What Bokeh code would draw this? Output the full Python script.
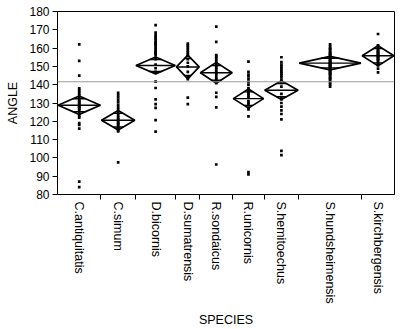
from bokeh.plotting import figure
from bokeh.models import FixedTicker, Range1d, Span
from bokeh.embed import file_html
from bokeh.resources import INLINE
import numpy as np

species = ["C.antiquitatis", "C.simum", "D.bicornis", "D.sumatrensis", "R.sondaicus",
           "R.unicornis", "S.hemitoechus", "S.hundsheimensis", "S.kirchbergensis"]
n = [29, 23, 27, 16, 22, 21, 23, 42, 22]
means = [128.8, 120.6, 150.5, 149.7, 146.5, 132.4, 137.0, 151.8, 155.8]
ci = [5.0, 5.3, 4.6, 6.5, 5.7, 5.2, 5.1, 3.7, 5.5]
grand_mean = 141.6
y_ticks = [80, 90, 100, 110, 120, 130, 140, 150, 160, 170, 180]

pts_c_antiquitatis = [162, 153, 145, 138, 137, 136, 135, 134, 133, 132, 131, 130.5, 130, 129, 129,
                      128, 128, 127, 127, 126, 125, 124, 123, 122, 119, 118, 116, 87, 84]
pts_c_simum = [135.5, 134.2, 133, 131.7, 130.4, 129, 127.7, 126.5, 125, 124, 123, 122, 121,
               120.5, 120, 119, 118.5, 118, 117, 116, 115, 114.5, 97.6]
pts_d_bicornis = [172.6, 168.5, 167, 166, 165, 164, 163, 162.5, 162, 161, 160, 159, 158,
                  157.5, 157, 156, 154, 151, 149, 147, 141.7, 138.2, 132, 129.4, 127.3, 120.6, 114.4]
pts_d_sumatrensis = [162.5, 161.5, 160.5, 159.5, 158.5, 157.5, 156.5, 155.8, 154, 152, 150,
                     147, 144, 143, 132.9, 129.4]
pts_r_sondaicus = [171.7, 163.4, 156.2, 155.5, 154.5, 153.5, 152.5, 151.5, 150.5, 149.5, 148.5,
                   147.5, 146.5, 145.5, 144, 143, 142, 140.8, 135.6, 133.4, 127.6, 96.4]
pts_r_unicornis = [152.6, 147, 145.5, 144.5, 143, 141.5, 140, 138.2, 137, 136, 135, 134, 133,
                   131, 130, 129, 127.5, 126.5, 122.7, 92.3, 91]
pts_s_hemitoechus = [155, 152.3, 151, 150, 149, 148, 147, 146, 145, 144, 142.6, 141, 139, 135,
                     133, 132, 130, 128, 126, 124, 121, 103.8, 101.5]
pts_s_hundsheimensis = [162, 161, 160, 159.5, 159, 158, 157.5, 157, 156.5, 156, 155.5, 155, 154.5,
                        154, 153.5, 153, 152.5, 152, 152, 151.5, 151, 151, 150.5, 150, 150, 149.5,
                        149, 148.5, 148, 147.5, 147, 146.5, 146, 145.5, 145, 144, 143.5, 143, 142,
                        141, 140, 139]
pts_s_kirchbergensis = [167.7, 161.5, 161, 160, 159, 158.5, 158, 157.5, 157, 156.5, 156, 155.5,
                        155, 154.5, 154, 153.5, 153, 152, 151.5, 150.5, 148.8, 146.7]

all_pts = [pts_c_antiquitatis, pts_c_simum, pts_d_bicornis, pts_d_sumatrensis, pts_r_sondaicus,
           pts_r_unicornis, pts_s_hemitoechus, pts_s_hundsheimensis, pts_s_kirchbergensis]

cum = np.cumsum([0] + n).astype(float)
lefts = cum[:-1]
rights = cum[1:]
centers = (lefts + rights) / 2.0
widths = rights - lefts

FONT = "Liberation Sans"

p = figure(width=400, height=329, x_range=Range1d(0, float(cum[-1])), y_range=Range1d(80, 180),
           output_backend="svg", toolbar_location=None,
           min_border_left=57, min_border_right=6, min_border_top=11, min_border_bottom=129)
p.xgrid.visible = False
p.ygrid.visible = False
p.outline_line_color = "black"
p.outline_line_width = 1
p.background_fill_color = "white"
p.border_fill_color = "white"

# grand mean line
p.add_layout(Span(location=grand_mean, dimension="width", line_color="#9a9a9a", line_width=1))

# points
px, py = [], []
for c, vals in zip(centers, all_pts):
    px += [float(c)] * len(vals)
    py += list(vals)
p.scatter(px, py, marker="square", size=2.7, color="black", line_color=None)

# diamonds
xs, ys = [], []
for l, r, c, m, h in zip(lefts, rights, centers, means, ci):
    xs.append([float(l) + 0.4, float(c), float(r) - 0.4, float(c)])
    ys.append([m, m + h, m, m - h])
p.patches(xs, ys, fill_color=None, line_color="black", line_width=1.7)

# mean lines
p.segment(x0=[float(v) + 0.4 for v in lefts], y0=means, x1=[float(v) - 0.4 for v in rights], y1=means,
          line_color="black", line_width=1.4)

# overlap marks
k = 1 / np.sqrt(2)
ox0, ox1, oy = [], [], []
for c, w, m, h in zip(centers, widths, means, ci):
    hw = (w / 2.0) * (1 - k)
    for s in (1, -1):
        ox0.append(float(c - hw))
        ox1.append(float(c + hw))
        oy.append(m + s * h * k)
p.segment(x0=ox0, y0=oy, x1=ox1, y1=oy, line_color="black", line_width=1.4)

# x axis
xa = p.xaxis[0]
xa.ticker = FixedTicker(ticks=[float(c) for c in centers], minor_ticks=[float(b) for b in cum[1:-1]])
xa.major_label_overrides = {float(c): s for c, s in zip(centers, species)}
xa.major_tick_line_color = None
xa.major_tick_out = 0
xa.major_tick_in = 0
xa.minor_tick_out = 5
xa.minor_tick_in = 0
xa.minor_tick_line_color = "black"
xa.major_label_orientation = "vertical"
xa.major_label_standoff = 2
xa.major_label_text_font = FONT
xa.major_label_text_font_size = "12.5px"
xa.major_label_text_color = "black"
xa.axis_label = "SPECIES"
xa.axis_label_text_font = FONT
xa.axis_label_text_font_size = "12.5px"
xa.axis_label_text_font_style = "normal"
xa.axis_label_text_color = "black"
xa.axis_label_standoff = 6
xa.axis_line_color = "black"

ya = p.yaxis[0]
ya.ticker = FixedTicker(ticks=y_ticks)
ya.major_tick_out = 5
ya.major_tick_in = 0
ya.minor_tick_line_color = None
ya.major_label_standoff = 3
ya.major_label_text_font = FONT
ya.major_label_text_font_size = "12px"
ya.major_label_text_color = "black"
ya.axis_label = "ANGLE"
ya.axis_label_text_font = FONT
ya.axis_label_text_font_size = "12.5px"
ya.axis_label_text_font_style = "normal"
ya.axis_label_text_color = "black"
ya.axis_label_standoff = 6
ya.axis_line_color = "black"

open("out.html", "w").write(file_html(p, INLINE))
